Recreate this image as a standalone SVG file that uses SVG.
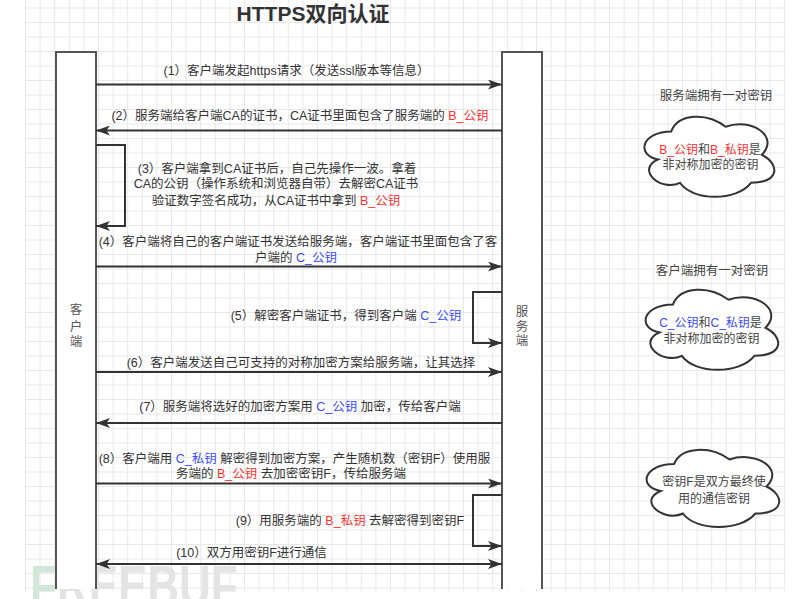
<svg xmlns="http://www.w3.org/2000/svg" xmlns:xlink="http://www.w3.org/1999/xlink" width="795" height="599" viewBox="0 0 795 599">
<style>
  text { font-family: "Liberation Sans", "Noto Sans CJK SC", sans-serif; }
  .lbl { font-size: 12.5px; fill: #333; text-anchor: middle; }
  .note { font-size: 12.5px; fill: #444; text-anchor: middle; }
  .cn { font-size: 12px; fill: #444; text-anchor: middle; }
  .r { fill: #ff3030; }
  .b { fill: #3a4dff; }
  .life { fill: #fff; stroke: #555; stroke-width: 2; }
  .msg { fill: none; stroke: #333; stroke-width: 2; }
  .cloud { fill: #fff; stroke: #333; stroke-width: 2; }
  .vt { font-size: 12.5px; fill: #555; text-anchor: middle; }
</style>
<defs>
  <pattern id="grid" x="25" y="7.5" width="14.6" height="14.5" patternUnits="userSpaceOnUse">
    <path d="M0 0.5 H14.6 M0.5 0 V14.5" stroke="#e8e8e8" stroke-width="1" fill="none"/>
  </pattern>
  <marker id="arr" viewBox="0 0 14 10" refX="14" refY="5" markerWidth="14" markerHeight="10" markerUnits="userSpaceOnUse" orient="auto-start-reverse">
    <path d="M0,0 L14,5 L0,10 L3.5,5 Z" fill="#333"/>
  </marker>
  <path id="cloudShape" vector-effect="non-scaling-stroke" d="M0.25,0.25 C0.05,0.25 0,0.5 0.16,0.55 C0,0.66 0.18,0.9 0.31,0.8 C0.4,1 0.7,1 0.8,0.8 C1,0.8 1,0.6 0.875,0.5 C1,0.3 0.8,0.1 0.625,0.2 C0.5,0.05 0.3,0.05 0.25,0.25 Z"/>
</defs>

<rect width="795" height="599" fill="#fff"/>
<rect x="25" y="0" width="760" height="591" fill="url(#grid)"/>

<g id="watermark">
  <text transform="translate(30 606) scale(1 1.3)" style="font-size:44px;font-weight:bold;fill:#e4e4e4"><tspan style="fill:#d2e7da">F</tspan>REEBUF</text>
</g>

<g id="title">
  <text x="313" y="21" style="font-size:21px;font-weight:bold;fill:#333;text-anchor:middle">HTTPS双向认证</text>
</g>

<g id="client">
  <path class="life" d="M56 589 V52 H96 V589"/>
  <text class="vt" x="76" y="313.5">客</text>
  <text class="vt" x="76" y="330.5">户</text>
  <text class="vt" x="76" y="346">端</text>
</g>

<g id="server">
  <path class="life" d="M502 589 V52 H542 V589"/>
  <text class="vt" x="522" y="316">服</text>
  <text class="vt" x="522" y="331">务</text>
  <text class="vt" x="522" y="345">端</text>
</g>

<g id="connectors">
  <g id="m1">
    <path class="msg" d="M96 84.5 H502" marker-end="url(#arr)"/>
    <text class="lbl" x="296.5" y="74.5">(1）客户端发起https请求（发送ssl版本等信息）</text>
  </g>
  <g id="m2">
    <path class="msg" d="M502 130.5 H96" marker-end="url(#arr)"/>
    <text class="lbl" x="300" y="119.5">(2）服务端给客户端CA的证书，CA证书里面包含了服务端的 <tspan class="r">B_公钥</tspan></text>
  </g>
  <g id="m3">
    <path class="msg" d="M96 145 H125 V226 H96" marker-end="url(#arr)"/>
    <text class="lbl" x="277" y="172.5">(3）客户端拿到CA证书后，自己先操作一波。拿着</text>
    <text class="lbl" x="276" y="188">CA的公钥（操作系统和浏览器自带）去解密CA证书</text>
    <text class="lbl" x="276" y="204.5">验证数字签名成功，从CA证书中拿到 <tspan class="r">B_公钥</tspan></text>
  </g>
  <g id="m4">
    <path class="msg" d="M96 266.5 H502" marker-end="url(#arr)"/>
    <text class="lbl" x="298" y="246">(4）客户端将自己的客户端证书发送给服务端，客户端证书里面包含了客</text>
    <text class="lbl" x="296" y="261.5">户端的 <tspan class="b">C_公钥</tspan></text>
  </g>
  <g id="m5">
    <path class="msg" d="M502 292 H473 V343 H502" marker-end="url(#arr)"/>
    <text class="lbl" x="346" y="319.5">(5）解密客户端证书，得到客户端 <tspan class="b">C_公钥</tspan></text>
  </g>
  <g id="m6">
    <path class="msg" d="M96 372 H502" marker-end="url(#arr)"/>
    <text class="lbl" x="301" y="367">(6）客户端发送自己可支持的对称加密方案给服务端，让其选择</text>
  </g>
  <g id="m7">
    <path class="msg" d="M502 423 H96" marker-end="url(#arr)"/>
    <text class="lbl" x="300" y="411">(7）服务端将选好的加密方案用 <tspan class="b">C_公钥</tspan> 加密，传给客户端</text>
  </g>
  <g id="m8">
    <path class="msg" d="M96 483.5 H502" marker-end="url(#arr)"/>
    <text class="lbl" x="294.5" y="462.5">(8）客户端用 <tspan class="b">C_私钥</tspan> 解密得到加密方案，产生随机数（密钥F）使用服</text>
    <text class="lbl" x="291" y="477.5">务端的 <tspan class="r">B_公钥</tspan> 去加密密钥F，传给服务端</text>
  </g>
  <g id="m9">
    <path class="msg" d="M502 495 H473 V546 H502" marker-end="url(#arr)"/>
    <text class="lbl" x="350" y="524.5">(9）用服务端的 <tspan class="r">B_私钥</tspan> 去解密得到密钥F</text>
  </g>
  <g id="m10">
    <path class="msg" d="M96 564 H502" marker-start="url(#arr)" marker-end="url(#arr)"/>
    <text class="lbl" x="251.5" y="556.5">(10）双方用密钥F进行通信</text>
  </g>
</g>

<g id="note-server">
  <text class="note" x="716" y="99.5">服务端拥有一对密钥</text>
</g>
<g id="cloud-b">
  <use xlink:href="#cloudShape" class="cloud" transform="translate(635 108) scale(145 93.5)"/>
  <text class="cn" x="710" y="153.5"><tspan class="r">B_公钥</tspan>和<tspan class="r">B_私钥</tspan>是</text>
  <text class="cn" x="710.5" y="168.5">非对称加密的密钥</text>
</g>
<g id="note-client">
  <text class="note" x="712" y="274.5">客户端拥有一对密钥</text>
</g>
<g id="cloud-c">
  <use xlink:href="#cloudShape" class="cloud" transform="translate(636 281) scale(148 93.5)"/>
  <text class="cn" x="710.5" y="327"><tspan class="b">C_公钥</tspan>和<tspan class="b">C_私钥</tspan>是</text>
  <text class="cn" x="711.5" y="342.5">非对称加密的密钥</text>
</g>
<g id="cloud-f">
  <use xlink:href="#cloudShape" class="cloud" transform="translate(637 441.5) scale(148 90)"/>
  <text class="cn" x="714" y="486">密钥F是双方最终使</text>
  <text class="cn" x="714" y="503">用的通信密钥</text>
</g>
</svg>
